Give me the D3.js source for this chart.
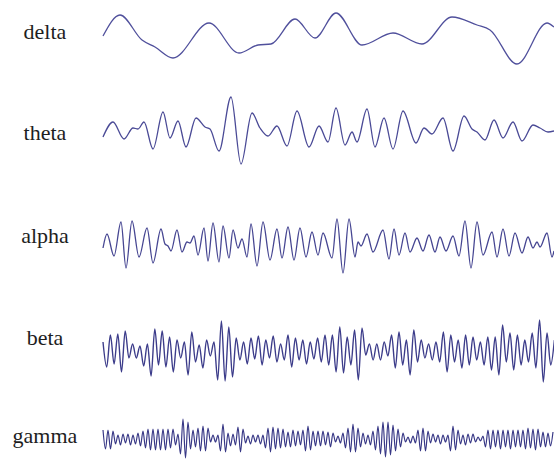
<!DOCTYPE html>
<meta charset="utf-8">
<html lang="en">
  <head>
    <meta charset="utf-8">
    <title>EEG bands</title>
<script src="https://d3js.org/d3.v7.min.js"></script>
<style type="text/css">
body {
  margin: 0;
  background: #fff;
}
.label {
  font-family: "Liberation Serif", "Times New Roman", serif;
  font-size: 22px;
  fill: #1e1e1e;
}
.wave {
  fill: none;
  stroke-linejoin: round;
}
</style>
</head>
<body>
<div id="chart"></div>

<script type="text/javascript">
"use strict";

// band names, top to bottom
var bands = ["delta", "theta", "alpha", "beta", "gamma"];

// delta: time (s) of each turning point and its amplitude
var deltaT = [0.00, 0.17, 0.39, 0.52, 0.70, 1.06, 1.36, 1.55, 1.68, 1.92, 2.12, 2.33, 2.59, 2.90, 3.19, 3.49, 3.74, 3.87, 4.14, 4.44, 4.51];
var deltaV = [2, 23, -2, -9, -20, 15, -15, -7, -6, 19, 0, 25, -7, 5, -6, 21, 13, 8, -26, 15, 11];

// theta
var thetaT = [0.00, 0.10, 0.21, 0.30, 0.35, 0.41, 0.50, 0.60, 0.67, 0.75, 0.83, 0.93, 1.02, 1.07, 1.16, 1.28, 1.38, 1.49, 1.57, 1.65,
  1.74, 1.84, 1.94, 2.06, 2.16, 2.25, 2.33, 2.42, 2.49, 2.54, 2.64, 2.72, 2.81, 2.90, 3.00, 3.13, 3.21, 3.29, 3.40, 3.50,
  3.61, 3.69, 3.74, 3.82, 3.91, 4.00, 4.10, 4.19, 4.30, 4.37, 4.45, 4.51];
var thetaV = [-6, 9, -8, 3, 2, 9, -18, 19, -7, 10, -16, 13, 4, 2, -20, 34, -33, 18, 3, -5,
  5, -15, 20, -16, 5, -11, 23, -14, -1, -11, 22, -16, 13, -18, 20, -12, 3, -3, 13, -20,
  15, 2, -1, -9, 11, -7, 9, -10, 6, 3, -1, 0];

// alpha
var alphaT = [0.00, 0.04, 0.11, 0.18, 0.23, 0.29, 0.36, 0.44, 0.50, 0.58, 0.62, 0.65, 0.68, 0.74, 0.79, 0.84, 0.87, 0.91, 0.95, 1.01,
  1.05, 1.10, 1.16, 1.20, 1.26, 1.30, 1.35, 1.39, 1.44, 1.48, 1.54, 1.60, 1.67, 1.74, 1.79, 1.85, 1.91, 1.97, 2.03, 2.09,
  2.15, 2.20, 2.29, 2.34, 2.40, 2.46, 2.52, 2.55, 2.58, 2.64, 2.70, 2.80, 2.86, 2.91, 2.96, 3.02, 3.07, 3.14, 3.20, 3.26,
  3.32, 3.37, 3.43, 3.50, 3.56, 3.62, 3.68, 3.74, 3.80, 3.89, 3.94, 4.00, 4.06, 4.12, 4.19, 4.25, 4.30, 4.34, 4.37, 4.44,
  4.49, 4.51];
var alphaV = [-2, 12, -10, 24, -22, 25, -11, 18, -17, 17, 2, 0, -5, 16, -6, 4, 3, 10, -9, 18,
  -15, 23, -16, 20, -12, 16, -2, 7, -11, 22, -20, 24, -14, 17, -12, 19, -14, 18, -11, 14,
  -9, 13, -12, 27, -27, 27, -11, 4, 0, 12, -6, 16, -13, 17, -9, 13, -6, 8, -5, 11,
  -6, 9, -5, 10, -10, 25, -22, 24, -9, 14, -11, 17, -10, 13, -7, 9, -2, 4, -1, 13,
  -11, -5];

// beta: evenly sampled turning points
var betaDt = 0.037;
var betaV = [8, -17, 15, -14, 16, -22, 19,
  -8, 6, -8, 4, -16, 6,
  -26, 21, -15, 19, -17, 13, -22, 10, -8, 8, -25, 18,
  -12, 5, -18, 10, -6, 8,
  -30, 29, -31, 23, -27, 12,
  -10, 8, -14, 12, -9, 14, -15, 10, -8, 14, -12, 6, -10, 15, -17, 12, -10, 10, -14, 8, -9, 12,
  -12, 15, -15, 15, -22, 23, -23, 13, -15, 20, -30, 22, -5,
  6, -10, 6, -10, 8, -6,
  15, -18, 18, -15, 10, -25, 20, -12,
  10, -8, 6, -10, 8, -12,
  18, -22, 15, -12, 10, -18,
  15, -15, 13, -10, 8, -15,
  13, -20, 13, -25, 25, -12,
  17, -20, 15, -15, 10, -12, 17, -18,
  30, -32, 17, -15, 10];

// gamma: evenly sampled turning points
var gammaDt = 0.025;
var gammaV = [9, -10, 9, -10, 8,
  -5, 4, -6, 5, -4, 5, -6, 4, -5, 6, -7,
  8, -9, 10, -11, 10, -11, 10, -11, 10, -11, 10, -9, 10,
  -6, 5,
  -15, 20, -19, 17,
  -10, 9, -8,
  11, -12, 13, -12, 11,
  -3, 4, -3, 4,
  -12, 15, -13,
  6, -7, 5, -6,
  12, -13, 10,
  -4, 3, -5, 4, -3, 4, -5, 4,
  -9, 11, -13, 12, -10, 11, -9, 10,
  -8, 7, -8, 9, -7, 8, -6, 9,
  -12, 13, -11,
  8, -7, 8, -7, 8, -6, 7, -8, 6,
  -3, 3, -4,
  6, -9, 11, -13, 15, -13, 11, -8, 6,
  -5, 4, -6,
  8, -11, 13, -15, 17, -18, 17, -16, 14, -12, 10, -8, 6,
  -3, 2, -4, 3, -4,
  9, -12, 11, -12, 8,
  -4, 5, -3, 4, -5, 4, -3, 4,
  -12, 13, -11, 9,
  -5, 4, -6, 5, -4, 5, -3, 2,
  -2, 3,
  -8, 9, -10, 9, -8, 9, -10, 9, -8, 9, -10, 9, -8, 9, -8, 9,
  -10, 11, -9, 10, -11, 10, -8,
  7, -8, 6, -7, 7];

// layout
var width = 554, height = 459;
var rowCenter = [38, 131, 246, 350, 439];
var labelY = [39, 140, 243, 345, 443];
var labelX = 45;
var strokeW = [1.3, 1.3, 1.3, 1.4, 1.2];
var strokeC = ["#50509c", "#4a4a96", "#464692", "#3c3c8a", "#383886"];

function zipPairs(t, v) {
  return v.map(function(d, i) { return [t[i], d]; });
}
function sampled(dt, v) {
  return v.map(function(d, i) { return [i * dt, d]; });
}

var series = [
  zipPairs(deltaT, deltaV),
  zipPairs(thetaT, thetaV),
  zipPairs(alphaT, alphaV),
  sampled(betaDt, betaV),
  sampled(gammaDt, gammaV)
];

var x = d3.scaleLinear().domain([0, 4.51]).range([103, 554]);

var svg = d3.select("#chart").append("svg")
    .attr("width", width)
    .attr("height", height);

bands.forEach(function(name, i) {
  var c = rowCenter[i];
  var y = d3.scaleLinear().domain([-40, 40]).range([c + 40, c - 40]);
  var line = d3.line()
      .x(function(d) { return x(d[0]); })
      .y(function(d) { return y(d[1]); })
      .curve(d3.curveMonotoneX);

  svg.append("text")
      .attr("class", "label")
      .attr("x", labelX)
      .attr("y", labelY[i])
      .attr("text-anchor", "middle")
      .text(name);

  svg.append("path")
      .datum(series[i])
      .attr("class", "wave")
      .attr("stroke", strokeC[i])
      .attr("stroke-width", strokeW[i])
      .attr("d", line);
});

</script>
</body>
</html>
